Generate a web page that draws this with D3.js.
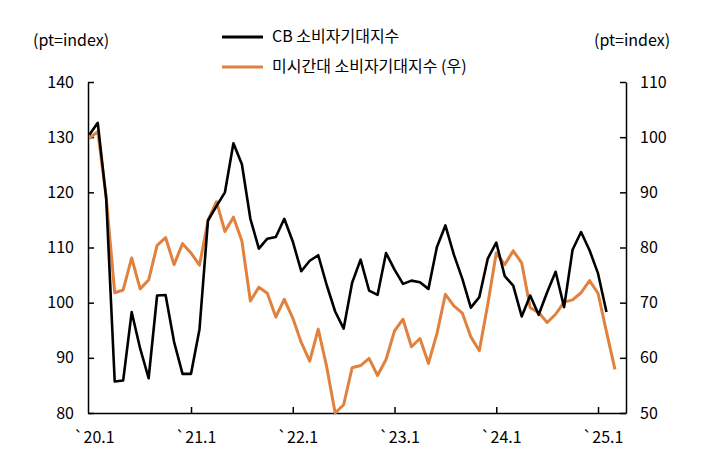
<!DOCTYPE html><html><head><meta charset="utf-8"><script src="https://d3js.org/d3.v7.min.js"></script>
<style>body{margin:0;background:#fff}text{font-family:"Noto Sans CJK KR","Noto Sans",sans-serif}</style></head><body><svg id="c" width="720" height="467"></svg>
<script>
const xTickLabels=["`20.1","`21.1","`22.1","`23.1","`24.1","`25.1"];
const cb=[130.4,132.6,118.8,85.7,85.9,98.3,91.7,86.3,101.3,101.4,92.9,87.1,
87.1,95.2,114.9,117.5,120.0,128.9,125.1,115.2,109.8,111.6,111.9,115.2,
111.1,105.7,107.6,108.6,103.2,98.4,95.3,103.6,107.8,102.2,101.4,109.0,
106.0,103.4,104.0,103.7,102.5,110.1,114.0,108.7,104.3,99.1,101.0,108.0,
110.9,104.8,103.1,97.5,101.3,97.8,101.9,105.6,99.2,109.6,112.8,109.5,
105.3,98.3];
const mich=[99.8,101.0,89.1,71.8,72.3,78.1,72.5,74.1,80.4,81.8,76.9,80.7,
79.0,76.8,84.9,88.3,82.9,85.5,81.2,70.3,72.8,71.7,67.4,70.6,
67.2,62.8,59.4,65.2,58.4,50.0,51.5,58.2,58.6,59.9,56.8,59.7,
64.9,67.0,62.0,63.5,59.0,64.4,71.5,69.4,68.1,63.8,61.3,69.7,
79.0,76.9,79.4,77.2,69.1,68.2,66.4,67.9,70.1,70.5,71.8,74.0,
71.7,64.7,57.9];
const svg=d3.select("#c");
const L=88,R=626,T=82,B=413;
const x=d3.scaleLinear().domain([-0.15,63.3]).range([L,R]);
const yL=d3.scaleLinear().domain([80,140]).range([B,T]);
const yR=d3.scaleLinear().domain([50,110]).range([B,T]);
const fs="16px";
const ax=svg.append("g").attr("transform",`translate(${L},0)`).call(d3.axisLeft(yL).tickValues(d3.range(80,141,10)).tickSizeInner(-6).tickSizeOuter(0).tickPadding(14));
const ay=svg.append("g").attr("transform",`translate(${R},0)`).call(d3.axisRight(yR).tickValues(d3.range(50,111,10)).tickSizeInner(-6).tickSizeOuter(0).tickPadding(14));
const axb=svg.append("g").attr("transform",`translate(0,${B})`).call(d3.axisBottom(x).tickValues([12,24,36,48,60]).tickSizeInner(-6).tickSizeOuter(0).tickFormat(""));
[ax,ay,axb].forEach(g=>{g.selectAll("path,line").attr("stroke","#000").attr("stroke-width",1.5);g.selectAll("text").attr("font-size",fs).attr("fill","#000")});
svg.append("g").selectAll("text").data(xTickLabels).join("text").attr("x",(d,i)=>x(i*12)+5).attr("y",B+30).attr("text-anchor","middle").attr("font-size",fs).text(d=>d);
const lc=d3.line().x((d,i)=>x(i)).y(d=>yL(d));
const lm=d3.line().x((d,i)=>x(i)).y(d=>yR(d));
svg.append("path").attr("d",lm(mich)).attr("fill","none").attr("stroke","#E0823E").attr("stroke-width",3).attr("stroke-linejoin","round");
svg.append("path").attr("d",lc(cb)).attr("fill","none").attr("stroke","#000").attr("stroke-width",2.6).attr("stroke-linejoin","round");
svg.append("text").attr("x",33).attr("y",46).attr("font-size",fs).text("(pt=index)");
svg.append("text").attr("x",594).attr("y",46).attr("font-size",fs).text("(pt=index)");
const leg=[["CB 소비자기대지수","#000",37],["미시간대 소비자기대지수 (우)","#E0823E",67]];
leg.forEach(([t,c,y])=>{svg.append("line").attr("x1",222).attr("x2",263).attr("y1",y).attr("y2",y).attr("stroke",c).attr("stroke-width",3);
svg.append("text").attr("x",272).attr("y",y+5).attr("font-size",fs).text(t);});
</script></body></html>
